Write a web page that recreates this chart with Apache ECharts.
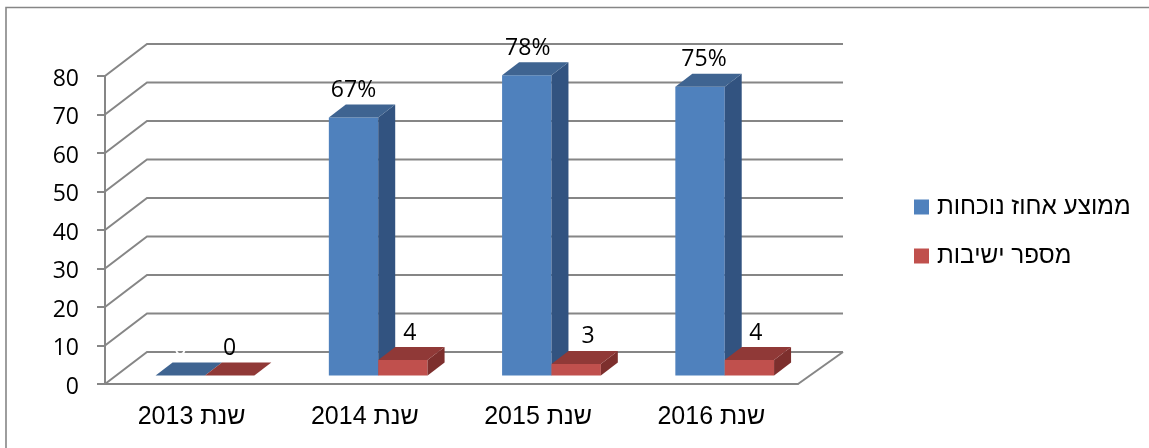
<!DOCTYPE html>
<html>
<head>
<meta charset="utf-8">
<script src="https://cdn.jsdelivr.net/npm/echarts@6/dist/echarts.min.js"></script>
<style>
html, body { margin: 0; padding: 0; background: #fff; }
#main { width: 1149px; height: 448px; }
</style>
</head>
<body>
<!-- rtl so the canvas shows the year to the left of the hebrew word -->
<div id="main" dir="rtl"></div>
<script>
var categories = ['שנת 2013', 'שנת 2014', 'שנת 2015', 'שנת 2016'];
var attendance = [0, 67, 78, 75];
var meetings = [0, 4, 3, 4];
var attendanceName = 'ממוצע אחוז נוכחות';
var meetingsName = 'מספר ישיבות';
var yTicks = [0, 10, 20, 30, 40, 50, 60, 70, 80];

// 3d look of the excel chart
var wallDx = 42, wallDxRight = 45, wallDy = -32;
var barDx = 17, barDy = -13, floorLift = 8.5;
var gridColor = '#868686';
var labelFont = '"Open Sans", sans-serif';
var textFont = '"Liberation Sans", Arial, sans-serif';

var myChart = echarts.init(document.getElementById('main'));

// one bar: front, top and side faces from the value's coordinates
function bar(api, value, left, colors, label, labelColor, labelDx) {
    var band = api.size([1, 0])[0];
    var c0 = api.coord([api.value(0), 0]);
    var c1 = api.coord([api.value(0), value]);
    var x0 = c0[0] + band * left;
    var x1 = x0 + band * 0.285;
    var yb = c0[1] - floorLift;
    var yt = c1[1] - floorLift;
    var children = [];
    if (yb - yt > 0) {
        children.push({ type: 'rect', shape: { x: x0, y: yt, width: x1 - x0, height: yb - yt },
            style: { fill: colors[0] } });
        children.push({ type: 'polygon', shape: { points: [[x1, yt], [x1 + barDx, yt + barDy], [x1 + barDx, yb + barDy], [x1, yb]] },
            style: { fill: colors[2] } });
    }
    children.push({ type: 'polygon', shape: { points: [[x0, yt], [x0 + barDx, yt + barDy], [x1 + barDx, yt + barDy], [x1, yt]] },
        style: { fill: colors[1] } });
    children.push({ type: 'text', z2: 10, style: { text: label, x: (x0 + x1) / 2 + labelDx, y: yt - 27, align: 'center', verticalAlign: 'middle',
        font: '23px ' + labelFont, fill: labelColor } });
    return { type: 'group', children: children };
}

var option = {
    backgroundColor: '#fff',
    animation: false,
    textStyle: { fontFamily: textFont },
    graphic: [{
        // frame is cut off on the right and at the bottom
        type: 'polyline', silent: true, z: -1,
        shape: { points: [[6, 448], [6, 7.5], [1149, 7.5]] },
        style: { fill: 'none', stroke: gridColor, lineWidth: 1.6 }
    }],
    legend: {
        orient: 'vertical',
        left: 909,
        top: 190,
        itemWidth: 15,
        itemHeight: 15,
        itemGap: 25,
        icon: 'rect',
        data: [attendanceName, meetingsName],
        textStyle: { fontFamily: textFont, fontSize: 24.3, color: '#000', padding: [0, 0, 0, 3] }
    },
    grid: { left: 105, right: 351, top: 76, bottom: 64 },
    xAxis: {
        type: 'category',
        data: categories,
        axisLine: { lineStyle: { color: gridColor, width: 2 } },
        axisTick: { length: 8, lineStyle: { color: gridColor, width: 2 } },
        axisLabel: { color: '#000', fontFamily: textFont, fontSize: 25, margin: 21 }
    },
    yAxis: {
        type: 'value',
        min: 0,
        max: 80,
        interval: 10,
        axisLine: { show: true, lineStyle: { color: gridColor, width: 2 } },
        axisTick: { show: true, length: 8, lineStyle: { color: gridColor, width: 2 } },
        // labels sit about 3px under their ticks in the original
        axisLabel: { color: '#000', fontFamily: labelFont, fontSize: 23, margin: 26, verticalAlign: 'top', lineHeight: 6 },
        splitLine: { show: false }
    },
    series: [
        {
            // walls and floor
            name: 'walls',
            type: 'custom',
            silent: true,
            z: 1,
            data: yTicks,
            encode: { y: 0 },
            clip: false,
            renderItem: function (params, api) {
                var p = api.coord([0, api.value(0)]);
                var xLeft = params.coordSys.x;
                var xRight = xLeft + params.coordSys.width;
                var line = { fill: 'none', stroke: gridColor, lineWidth: 2 };
                var children = [{
                    type: 'polyline',
                    shape: { points: [[xLeft, p[1]], [xLeft + wallDx, p[1] + wallDy], [xRight + wallDxRight, p[1] + wallDy]] },
                    style: line
                }];
                if (api.value(0) === 0) {
                    children.push({ type: 'line', shape: { x1: xRight, y1: p[1], x2: xRight + wallDxRight, y2: p[1] + wallDy }, style: line });
                }
                return { type: 'group', children: children };
            }
        },
        {
            name: attendanceName,
            type: 'custom',
            z: 2,
            clip: false,
            itemStyle: { color: '#4f81bd' },
            data: attendance.map(function (v, i) { return [i, v]; }),
            renderItem: function (params, api) {
                var v = api.value(1);
                var label = params.dataIndex === 0 ? String(v) : v + '%';
                // the 2013 label is white in the original, only its edge shows on the gridline
                var labelColor = v === 0 ? '#fff' : '#000';
                var labelDx = [0, 0, 1, 4][params.dataIndex];
                return bar(api, v, -0.208, ['#4f81bd', '#3f6491', '#325380'], label, labelColor, labelDx);
            }
        },
        {
            name: meetingsName,
            type: 'custom',
            z: 3,
            clip: false,
            itemStyle: { color: '#c0504d' },
            data: meetings.map(function (v, i) { return [i, v]; }),
            renderItem: function (params, api) {
                var labelDx = [0, 7, 12, 6.5][params.dataIndex];
                return bar(api, api.value(1), 0.077, ['#c0504d', '#903937', '#7d2f2d'], String(api.value(1)), '#000', labelDx);
            }
        }
    ]
};

myChart.setOption(option);
</script>
</body>
</html>
